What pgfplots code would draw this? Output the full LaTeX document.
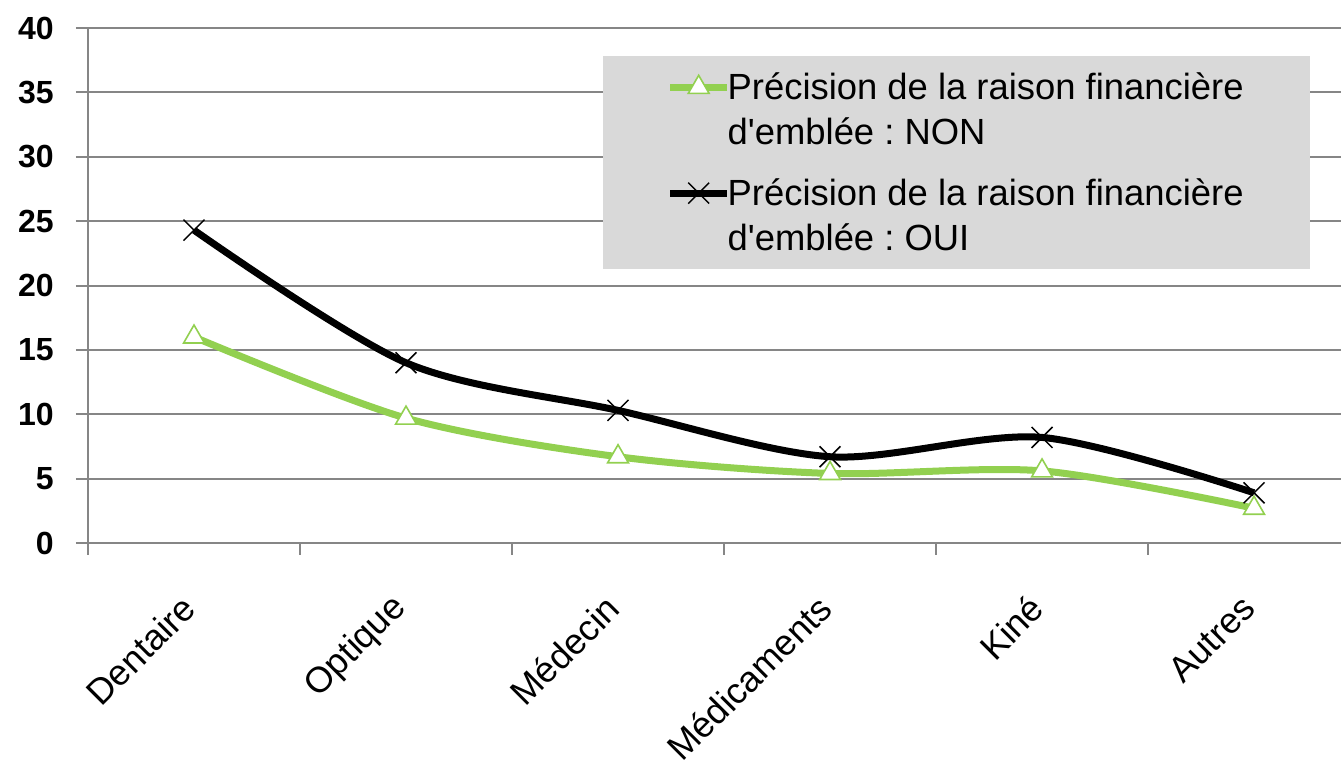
\documentclass[border=0pt]{standalone}
\usepackage{fontspec}
\setmainfont{Liberation Sans}
\usepackage{pgfplots}
\pgfplotsset{compat=1.18}
\definecolor{grn}{HTML}{92D050}
\definecolor{gridc}{HTML}{868686}
\definecolor{legbg}{HTML}{D9D9D9}
\frenchspacing
\begin{document}
\begin{tikzpicture}
\useasboundingbox (-44pt,-108.5pt) rectangle (626.5pt,271.5pt);
\begin{axis}[
  at={(0pt,0pt)}, anchor=south west,
  scale only axis, width=626.5pt, height=257.5pt,
  xmin=-0.5, xmax=5.41, ymin=0, ymax=40,
  ytick={0,5,...,40},
  xtick={0,...,5},
  xticklabels={Dentaire,Optique,Médecin,Médicaments,Kiné,Autres},
  /pgf/number format/assume math mode=true,
  axis x line*=bottom, axis y line*=left,
  axis line style={gridc, line width=1pt, -},
  ymajorgrids, grid style={gridc, line width=1pt},
  tick align=outside, major tick length=6pt,
  ytick style={draw=gridc, line width=1pt},
  xtick style={draw=none},
  extra x ticks={-0.5,0.5,1.5,2.5,3.5,4.5},
  extra x tick labels={},
  extra x tick style={xtick style={draw=gridc, line width=1pt}, grid=none},
  yticklabel style={font=\fontsize{16pt}{19pt}\selectfont\bfseries, anchor=east, inner sep=0pt, xshift=-11pt},
  xticklabel style={font=\fontsize{18pt}{21pt}\selectfont, xshift=-2.5pt, yshift=-23.5pt, rotate=45, anchor=east, inner sep=0pt},
  legend style={at={(0.9753,0.9456)}, anchor=north east, fill=legbg, draw=none,
    inner xsep=32pt, inner ysep=8pt,
    font=\fontsize{18.2pt}{22.5pt}\selectfont,
    nodes={inner xsep=1pt, inner ysep=0pt},
    cells={align=left, anchor=west}, row sep=15.5pt,
    /tikz/every odd column/.append style={column sep=-2.5pt}},
  legend cell align=left,
  legend image code/.code={\draw[mark repeat=2,mark phase=2,#1] plot coordinates {(-2pt,11.25pt) (12.25pt,11.25pt) (26.5pt,11.25pt)};},
]
\addplot[grn, line width=3.5pt, smooth, mark=triangle*, mark size=6pt,
  mark options={solid, fill=white, draw=grn, line width=0.8pt}]
  coordinates {(0,16.0) (1,9.7) (2,6.7) (3,5.4) (4,5.6) (5,2.7)};
\addlegendentry{Précision de la raison financière\\d\textquotesingle emblée : NON}
\addplot[black, line width=3.5pt, smooth, mark=x, mark size=7.4pt,
  mark options={solid, line width=0.75pt}]
  coordinates {(0,24.3) (1,14.0) (2,10.3) (3,6.7) (4,8.2) (5,3.9)};
\addlegendentry{Précision de la raison financière\\d\textquotesingle emblée : OUI}
\end{axis}
\end{tikzpicture}
\end{document}
